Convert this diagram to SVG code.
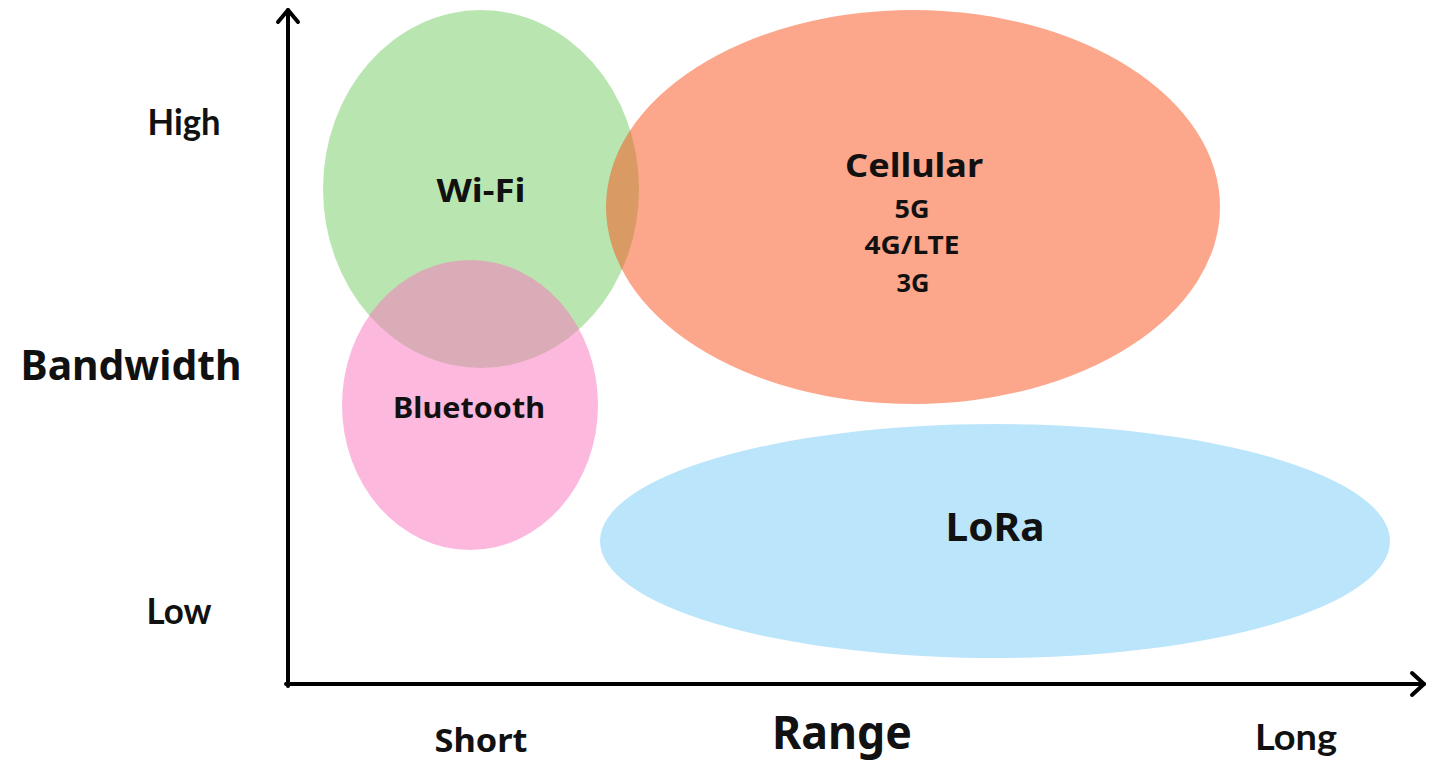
<svg xmlns="http://www.w3.org/2000/svg" width="1438" height="761" viewBox="0 0 1438 761">
<style>
.bub{fill-opacity:0.5}
.lbl{font-family:"Noto Sans","Open Sans",sans-serif;font-weight:700;fill:#111;text-anchor:middle}
.cal{font-family:"Lato","Liberation Sans",sans-serif;font-weight:700;fill:#111;text-anchor:middle}
.axis{stroke:#000;stroke-width:4;fill:none;stroke-linecap:round;stroke-linejoin:round}
</style>
<rect width="1438" height="761" fill="#fff"/>
<g id="axes">
<path class="axis" d="M288,686 V10"/>
<path class="axis" d="M278,22 L288,10 L298,22"/>
<path class="axis" d="M286,684 H1424"/>
<path class="axis" d="M1412,673 L1424,684 L1412,695"/>
</g>
<g id="wifi">
<ellipse class="bub" cx="481" cy="189" rx="158" ry="179" fill="#73cd61"/>
</g>
<g id="cellular">
<ellipse class="bub" cx="913" cy="207" rx="307" ry="197" fill="#f94d17"/>
</g>
<g id="bluetooth">
<ellipse class="bub" cx="470" cy="405" rx="128" ry="145" fill="#fb71bd"/>
</g>
<g id="lora">
<ellipse class="bub" cx="995" cy="541" rx="395" ry="117" fill="#77cbf7"/>
</g>
<g id="labels">
<text class="lbl" x="481" y="202" font-size="33" textLength="89" lengthAdjust="spacingAndGlyphs">Wi-Fi</text>
<text class="lbl" x="469" y="418" font-size="29" textLength="152" lengthAdjust="spacingAndGlyphs">Bluetooth</text>
<text class="lbl" x="914" y="177" font-size="32" textLength="138" lengthAdjust="spacingAndGlyphs">Cellular</text>
<text class="lbl" x="912" y="218" font-size="25" textLength="35" lengthAdjust="spacingAndGlyphs">5G</text>
<text class="lbl" x="912" y="254" font-size="25" textLength="95" lengthAdjust="spacingAndGlyphs">4G/LTE</text>
<text class="lbl" x="913" y="292" font-size="25" textLength="33" lengthAdjust="spacingAndGlyphs">3G</text>
<text class="lbl" x="995" y="541" font-size="40" textLength="99" lengthAdjust="spacingAndGlyphs">LoRa</text>
<text class="lbl" x="131" y="380" font-size="42" textLength="221" lengthAdjust="spacingAndGlyphs">Bandwidth</text>
<text class="lbl" x="842" y="749" font-size="46" textLength="140" lengthAdjust="spacingAndGlyphs" font-weight="600">Range</text>
<text class="lbl" x="481" y="752" font-size="33" textLength="93" lengthAdjust="spacingAndGlyphs">Short</text>
<text class="cal" x="1296" y="750" font-size="36" textLength="82" lengthAdjust="spacingAndGlyphs">Long</text>
<text class="cal" x="184" y="135" font-size="36" textLength="73" lengthAdjust="spacingAndGlyphs">High</text>
<text class="cal" x="179" y="624" font-size="36" textLength="65" lengthAdjust="spacingAndGlyphs">Low</text>
</g>
</svg>
